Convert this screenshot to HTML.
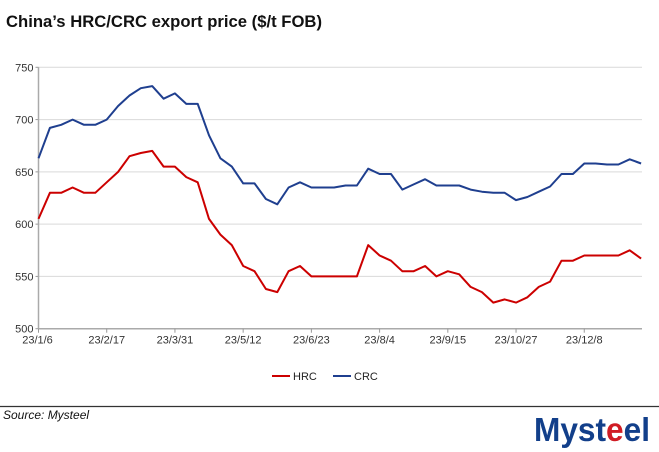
<!DOCTYPE html>
<html><head><meta charset="utf-8"><style>
body{margin:0;background:#fff;}
svg{display:block;font-family:"Liberation Sans",sans-serif;}
</style></head><body>
<svg id="s" width="659" height="452" viewBox="0 0 659 452">
<text x="6" y="27" font-size="16.5" font-weight="bold" fill="#111" textLength="316" lengthAdjust="spacingAndGlyphs">China’s HRC/CRC export price ($/t FOB)</text>
<g id="grid"></g>
<g id="lines"></g>
<g font-size="11" fill="#222">
<line x1="272" y1="376" x2="290" y2="376" stroke="#cc0000" stroke-width="2"/>
<text x="293" y="380">HRC</text>
<line x1="333" y1="376" x2="351" y2="376" stroke="#1f3f8f" stroke-width="2"/>
<text x="354" y="380">CRC</text>
</g>
<line x1="0" y1="406.5" x2="659" y2="406.5" stroke="#333" stroke-width="1.2"/>
<text x="3" y="419" font-size="12" font-style="italic" fill="#111">Source: Mysteel</text>
<text x="534" y="441" font-size="33" font-weight="bold" fill="#123f8a" textLength="116" lengthAdjust="spacingAndGlyphs">Myst<tspan fill="#d01c24">e</tspan>el</text>
</svg>
<script>
var crc=[663,692,695,700,695,695,700,713,723,730,732,720,725,715,715,685,663,655,639,639,624,619,635,640,635,635,635,637,637,653,648,648,633,638,643,637,637,637,633,631,630,630,623,626,631,636,648,648,658,658,657,657,662,658];
var hrc=[605,630,630,635,630,630,640,650,665,668,670,655,655,645,640,605,590,580,560,555,538,535,555,560,550,550,550,550,550,580,570,565,555,555,560,550,555,552,540,535,525,528,525,530,540,545,565,565,570,570,570,570,575,567];
var x0=38.5,dx=11.37,yT=67.3,yB=328.7;
function Y(v){return yB-(v-500)*(yB-yT)/250;}
var ns="http://www.w3.org/2000/svg",g=document.getElementById('grid'),L=document.getElementById('lines');
function el(p,t,a){var e=document.createElementNS(ns,t);for(var k in a)e.setAttribute(k,a[k]);p.appendChild(e);return e;}
for(var v=500;v<=750;v+=50){var y=Y(v);
 if(v>500)el(g,'line',{x1:x0,y1:y,x2:642,y2:y,stroke:'#d9d9d9','stroke-width':1});
 el(g,'line',{x1:x0-3,y1:y,x2:x0,y2:y,stroke:'#999'});
 var t=el(g,'text',{x:x0-5,y:y+4,'font-size':11,fill:'#333','text-anchor':'end'});t.textContent=v;}
el(g,'line',{x1:x0,y1:yT,x2:x0,y2:yB,stroke:'#aaa','stroke-width':1.5});
el(g,'line',{x1:x0,y1:yB,x2:642,y2:yB,stroke:'#aaa','stroke-width':1.5});
var labs=['23/1/6','23/2/17','23/3/31','23/5/12','23/6/23','23/8/4','23/9/15','23/10/27','23/12/8'];
labs.forEach(function(s,i){var x=x0+i*6*dx;
 el(g,'line',{x1:x,y1:yB,x2:x,y2:yB+4,stroke:'#999'});
 var t=el(g,'text',{x:i==0?x-1:x,y:yB+15,'font-size':11,fill:'#333','text-anchor':i==0?'middle':'middle'});t.textContent=s;});
function pl(d,c){var p=d.map(function(v,i){return (x0+i*dx).toFixed(1)+','+Y(v).toFixed(1);}).join(' ');
 el(L,'polyline',{points:p,fill:'none',stroke:c,'stroke-width':2,'stroke-linejoin':'round'});}
pl(crc,'#1f3f8f');pl(hrc,'#cc0000');
</script>
</body></html>
